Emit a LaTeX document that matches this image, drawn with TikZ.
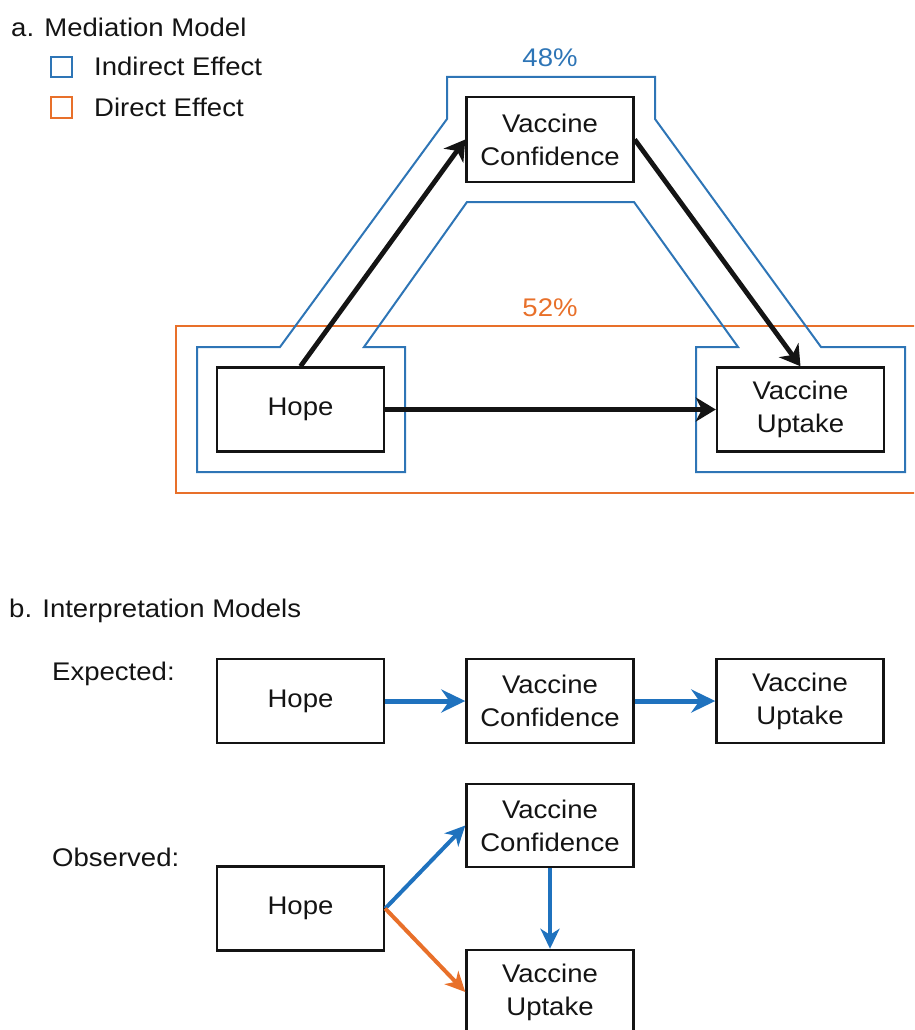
\documentclass[tikz,border=0pt]{standalone}
\usepackage{fontspec}
\setmainfont{Liberation Sans}[FakeStretch=1.08]
\usetikzlibrary{arrows.meta}
\definecolor{efblue}{HTML}{2E75B6}
\definecolor{arblue}{HTML}{1F72BE}
\definecolor{eforange}{HTML}{E8702A}
\definecolor{ink}{HTML}{141414}
\begin{document}
\begin{tikzpicture}[x=1pt,y=-1pt,
  txt/.style={font=\fontsize{25.5}{33}\selectfont, text=ink, inner sep=0pt},
  varbox/.style={txt, draw=ink, line width=2.4pt, minimum width=167pt, minimum height=84pt, align=center},
  blackarrow/.style={draw=ink, line width=4.8pt, -{Stealth[length=20pt,width=24pt,inset=6pt]}},
  bluearrow/.style={draw=arblue, line width=5pt, -{Stealth[length=24pt,width=23pt,inset=8pt]}},
  thinarrow/.style={line width=4pt, -{Stealth[length=20pt,width=19pt,inset=6pt]}},
  outline/.style={line width=2pt}
]
\useasboundingbox (0,0) rectangle (914,1030);
\begin{scope}
\clip (0,0) rectangle (914,1030);

% ---------- part a ----------
\node[txt, anchor=base west] (titlea) at (11,37) {a. Mediation Model};
\draw[efblue, line width=2.5pt] (51,57) rectangle (72,77);
\node[txt, anchor=base west] (legind) at (94,76) {Indirect Effect};
\draw[eforange, line width=2.5pt] (51,97) rectangle (72,118);
\node[txt, anchor=base west] (legdir) at (94,117) {Direct Effect};

% orange direct-effect frame
\draw[eforange, outline] (176,326) rectangle (940,493);
% blue indirect-effect frame
\draw[efblue, outline] (447,77) -- (655,77) -- (655,119) -- (821,347) -- (905,347)
  -- (905,472) -- (696,472) -- (696,347) -- (738,347) -- (634,202) -- (467,202)
  -- (364,347) -- (405,347) -- (405,472) -- (197,472) -- (197,347) -- (280,347)
  -- (447,119) -- cycle;

\node[txt, text=efblue] (pct48) at (550,58) {48\%};
\node[txt, text=eforange] (pct52) at (550,308) {52\%};

\node[varbox, minimum height=85pt] (vc) at (550,139.5) {Vaccine\\Confidence};
\node[varbox] (hope) at (300.5,409.5) {Hope};
\node[varbox] (vu) at (800.5,409.5) {Vaccine\\Uptake};

\draw[blackarrow] (hope.north) -- (vc.west);
\draw[blackarrow] (vc.east) -- (vu.north);
\draw[blackarrow] (hope.east) -- (vu.west);

% ---------- part b ----------
\node[txt, anchor=base west] (titleb) at (9,617) {b. Interpretation Models};

\node[txt, anchor=base west] (expl) at (52,680) {Expected:};
\node[varbox] (h2) at (300.5,701) {Hope};
\node[varbox] (vc2) at (550,701) {Vaccine\\Confidence};
\node[varbox] (vu2) at (800,701) {Vaccine\\Uptake};
\draw[bluearrow] (h2.east) -- (vc2.west);
\draw[bluearrow] (vc2.east) -- (vu2.west);

\node[txt, anchor=base west] (obsl) at (52,866) {Observed:};
\node[varbox] (h3) at (300.5,908.5) {Hope};
\node[varbox, minimum height=83pt] (vc3) at (550,825.5) {Vaccine\\Confidence};
\node[varbox] (vu3) at (550,992) {Vaccine\\Uptake};
\draw[thinarrow, draw=arblue] (h3.east) -- (vc3.west);
\draw[thinarrow, draw=eforange] (h3.east) -- (vu3.west);
\draw[thinarrow, draw=arblue] (vc3.south) -- (vu3.north);
\end{scope}
\end{tikzpicture}
\end{document}
